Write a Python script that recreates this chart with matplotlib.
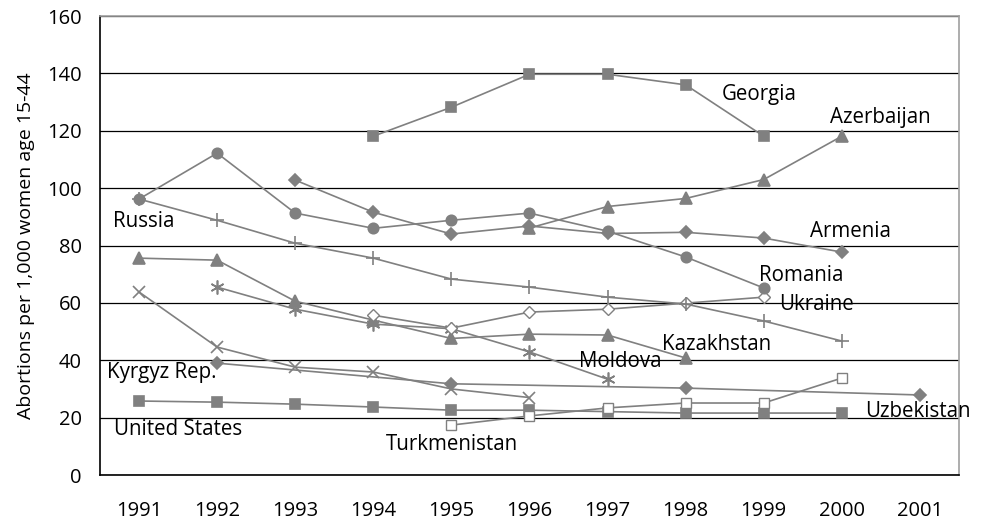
import numpy as np
import matplotlib.pyplot as plt

years = np.arange(1991, 2002)
nan = np.nan

# values per 1,000 women age 15-44, one entry per year 1991..2001
georgia      = [nan, nan, nan, 118.1, 128.2, 139.7, 139.7, 136.0, 118.1, nan, nan]
azerbaijan   = [nan, nan, nan, nan, nan, 86.1, 93.6, 96.4, 103.0, 118.1, nan]
romania      = [96.2, 112.2, 91.3, 86.0, 88.8, 91.3, 85.0, 76.0, 65.2, nan, nan]
russia       = [96.2, 88.8, 80.8, 75.6, 68.3, 65.5, 62.0, 59.6, 53.7, 46.7, nan]
armenia      = [nan, nan, 102.8, 91.6, 84.0, 86.8, 84.2, 84.6, 82.6, 77.7, nan]
kazakhstan   = [75.6, 74.9, 60.6, 54.0, 47.6, 49.1, 48.8, 40.8, nan, nan, nan]
ukraine      = [nan, nan, nan, 55.7, 51.2, 56.8, 57.8, 59.9, 62.0, nan, nan]
moldova      = [nan, 65.5, 57.8, 52.6, 51.0, 42.9, 33.4, nan, nan, nan, nan]
kyrgyz       = [63.8, 44.6, 37.6, 35.9, 30.0, 27.0, nan, nan, nan, nan, nan]
uzbekistan   = [nan, 39.0, nan, nan, 31.8, nan, nan, 30.3, nan, nan, 27.9]
usa          = [25.8, 25.4, 24.7, 23.7, 22.6, 22.6, 22.1, 21.6, 21.6, 21.6, nan]
turkmenistan = [nan, nan, nan, nan, 17.4, 20.6, 23.4, 25.1, 25.1, 33.8, nan]

GREY = '#808080'
plt.rcParams['font.family'] = ['Open Sans', 'DejaVu Sans']

fig = plt.figure(figsize=(9.88, 5.25), dpi=100)
ax = fig.add_axes([0.1012, 0.0952, 0.8694, 0.8743])

def draw(vals, marker, ms=6.5, hollow=False):
    v = np.array(vals, dtype=float)
    ok = ~np.isnan(v)
    ax.plot(years[ok], v[ok], color=GREY, lw=1.2, marker=marker, ms=ms,
            mfc='white' if hollow else GREY, mec=GREY, mew=1.0 if hollow else 1.2,
            zorder=3)

draw(usa, 's', 7)
draw(turkmenistan, 's', 6.5, hollow=True)
draw(uzbekistan, 'D', 6)
draw(kyrgyz, 'x', 8.5)
draw(moldova, (6, 2, 0), 10)
draw(kazakhstan, '^', 8)
draw(ukraine, 'D', 6, hollow=True)
draw(russia, '+', 10)
draw(armenia, 'D', 6)
draw(romania, 'o', 7.5)
draw(azerbaijan, '^', 8)
draw(georgia, 's', 7)

labels = [
    ("Georgia", 1998.46, 132.7), ("Azerbaijan", 1999.85, 124.7),
    ("Russia", 1990.67, 88.2), ("Armenia", 1999.59, 85.0),
    ("Romania", 1998.94, 69.7), ("Ukraine", 1999.2, 59.6),
    ("Kazakhstan", 1997.7, 45.6), ("Moldova", 1996.64, 39.7),
    ("Kyrgyz Rep.", 1990.59, 35.9), ("United States", 1990.68, 15.7),
    ("Turkmenistan", 1994.16, 10.5), ("Uzbekistan", 2000.3, 22.0),
]
for name, lx, ly in labels:
    ax.text(lx, ly, name, fontsize=14.8, ha='left', va='center', color='black', zorder=4)

ax.set_xlim(1990.5, 2001.5)
ax.set_ylim(0, 160)
ax.set_xticks(years)
ax.set_xticklabels([str(y) for y in years])
ax.set_yticks(np.arange(0, 161, 20))
ax.tick_params(length=0, labelsize=14.5)
ax.tick_params(axis='x', pad=19)
ax.tick_params(axis='y', pad=13)
ax.yaxis.grid(True, color='black', lw=0.9)
ax.set_axisbelow(True)
ax.set_ylabel("Abortions per 1,000 women age 15-44", fontsize=14, labelpad=9)
ax.spines['left'].set_color('black')
ax.spines['bottom'].set_color('black')
ax.spines['top'].set_color('#a0a0a0')
ax.spines['right'].set_color('#a0a0a0')
for sp in ax.spines.values():
    sp.set_linewidth(1.2)

plt.savefig("out.png", dpi=100)
